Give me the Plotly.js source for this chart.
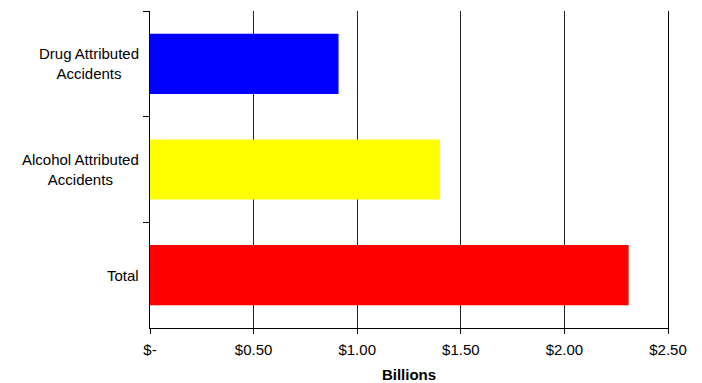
<!DOCTYPE html>
<html>
<head>
<meta charset="utf-8">
<script src="https://cdn.plot.ly/plotly-3.0.1.min.js"></script>
<style>html,body{margin:0;padding:0;background:#fff;}#chart{width:702px;height:383px;}</style>
</head>
<body>
<div id="chart"></div>
<script>
const categories = ["Drug Attributed<br>Accidents", "Alcohol Attributed<br>Accidents", "Total"];
const costBillions = [0.91, 1.40, 2.31];
const barColors = ["#0000FF", "#FFFF00", "#FF0000"];
const tickValues = [0, 0.5, 1.0, 1.5, 2.0, 2.5];
const tickLabels = ["$-", "$0.50", "$1.00", "$1.50", "$2.00", "$2.50"];
const xTitle = "Billions";

const font = "Arial, 'Liberation Sans', sans-serif";

const trace = {
  type: "bar",
  orientation: "h",
  x: costBillions,
  y: categories,
  marker: {color: barColors, line: {width: 0}},
  hoverinfo: "none"
};

const annotations = categories.map(c => ({
  xref: "paper", yref: "y",
  x: 0, y: c,
  xanchor: "right", yanchor: "middle",
  xshift: -9,
  align: "center",
  text: c,
  showarrow: false,
  font: {family: font, size: 15, color: "#000"}
}));

const layout = {
  width: 702, height: 383,
  margin: {l: 150, r: 34, t: 11, b: 55},
  paper_bgcolor: "#fff",
  plot_bgcolor: "#fff",
  showlegend: false,
  bargap: 0.43,
  font: {family: font, size: 15, color: "#000"},
  xaxis: {
    range: [0, 2.5],
    tickvals: tickValues,
    ticktext: tickLabels,
    showgrid: true,
    gridcolor: "#222",
    gridwidth: 1,
    showline: true,
    linecolor: "#000",
    linewidth: 1,
    ticks: "outside",
    ticklen: 5,
    tickcolor: "#000",
    ticklabelstandoff: 3,
    zeroline: false,
    tickfont: {family: font, size: 15, color: "#000"},
    title: {text: "<b>" + xTitle + "</b>", font: {family: font, size: 15, color: "#000"}, standoff: 14}
  },
  yaxis: {
    type: "category",
    autorange: "reversed",
    showticklabels: false,
    showgrid: false,
    showline: true,
    mirror: true,
    linecolor: "#000",
    linewidth: 1,
    ticks: "outside",
    tickson: "boundaries",
    ticklen: 6,
    tickcolor: "#000",
    zeroline: false
  },
  annotations: annotations
};

Plotly.newPlot("chart", [trace], layout, {staticPlot: true, displayModeBar: false});
</script>
</body>
</html>
